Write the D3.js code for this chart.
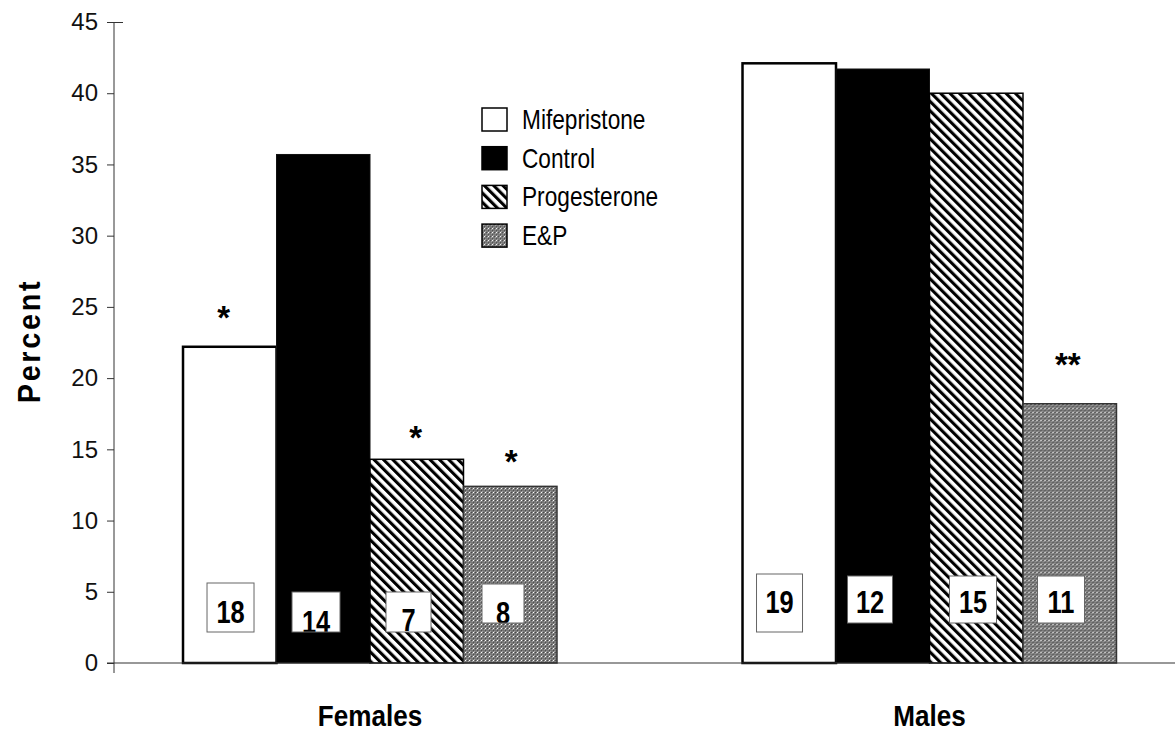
<!DOCTYPE html>
<html>
<head>
<meta charset="utf-8">
<script src="https://cdn.jsdelivr.net/npm/d3@7"></script>
<style>
  body { margin: 0; background: #fff; }
  svg { display: block; }
</style>
</head>
<body>
<svg id="chart" width="1175" height="732"></svg>
<script>
// ---- data ----
const groups = ["Females", "Males"];
const series = ["Mifepristone", "Control", "Progesterone", "E&P"];
const femaleValues = [22.2, 35.7, 14.3, 12.4];
const maleValues = [42.1, 41.7, 40.0, 18.2];
const femaleCounts = ["18", "14", "7", "8"];
const maleCounts = ["19", "12", "15", "11"];
const femaleMarks = ["*", "", "*", "*"];
const maleMarks = ["", "", "", "**"];
const yTicks = [0, 5, 10, 15, 20, 25, 30, 35, 40, 45];

// ---- layout of the count boxes (offset from bar left, top/bottom in px) ----
const femaleBoxes = [
  { dx: 24, w: 47, top: 583, bottom: 632, base: 623 },
  { dx: 15.5, w: 48, top: 592, bottom: 632, base: 633 },
  { dx: 16, w: 45, top: 592, bottom: 632, base: 631 },
  { dx: 18.5, w: 42, top: 584, bottom: 623, base: 624 }
];
const maleBoxes = [
  { dx: 14, w: 46, top: 574, bottom: 632, base: 613 },
  { dx: 11.5, w: 45, top: 576, bottom: 623, base: 613 },
  { dx: 20, w: 47, top: 576, bottom: 623, base: 613 },
  { dx: 14.5, w: 47, top: 576, bottom: 623, base: 613 }
];
// gap between bar top and significance mark centre
const femaleMarkGap = [37, 0, 29, 32];
const maleMarkGap = [0, 0, 0, 47];
const femaleMarkDx = [-6, 0, -1, 1];
const maleMarkDx = [0, 0, 0, -2];

const rows = groups.map((g, gi) => ({
  group: g,
  values: gi === 0 ? femaleValues : maleValues,
  counts: gi === 0 ? femaleCounts : maleCounts,
  marks: gi === 0 ? femaleMarks : maleMarks,
  boxes: gi === 0 ? femaleBoxes : maleBoxes,
  gaps: gi === 0 ? femaleMarkGap : maleMarkGap,
  mdx: gi === 0 ? femaleMarkDx : maleMarkDx
}));

const svg = d3.select("#chart");
const axisX = 114, yTop = 22, yZero = 663;
const FONT = "'Liberation Sans', Arial, sans-serif";

const y = d3.scaleLinear().domain([0, 45]).range([yZero, yTop]);
const x0 = d3.scaleBand().domain(groups)
  .range([90.25, 1209.25]).paddingInner(0.3316).paddingOuter(0.1658);
const x1 = d3.scaleBand().domain(series).range([0, x0.bandwidth()]).padding(0);

// condensed text: place at (x, y) and squeeze horizontally
function narrow(sel, fx, fy, k) {
  sel.attr("x", 0).attr("y", 0)
    .attr("transform", (d, i) => `translate(${fx(d, i)},${fy(d, i)}) scale(${k},1)`);
}

// ---- fill patterns ----
const defs = svg.append("defs");
const stripe = defs.append("pattern").attr("id", "stripes")
  .attr("patternUnits", "userSpaceOnUse").attr("width", 6.6).attr("height", 6.6)
  .attr("patternTransform", "rotate(-45)");
stripe.append("rect").attr("width", 6.6).attr("height", 6.6).attr("fill", "#fff");
stripe.append("rect").attr("width", 3.1).attr("height", 6.6).attr("fill", "#000");

const check = defs.append("pattern").attr("id", "checker")
  .attr("patternUnits", "userSpaceOnUse").attr("width", 4).attr("height", 4);
check.append("rect").attr("width", 4).attr("height", 4).attr("fill", "#7a7a7a");
[[0,0],[2,2]].forEach(([a,b]) => check.append("rect").attr("x", a).attr("y", b)
  .attr("width", 1).attr("height", 1).attr("fill", "#4c4c4c"));
[[1,1],[3,3]].forEach(([a,b]) => check.append("rect").attr("x", a).attr("y", b)
  .attr("width", 1).attr("height", 1).attr("fill", "#a8a8a8"));
check.append("rect").attr("x", 2).attr("y", 0).attr("width", 1).attr("height", 1).attr("fill", "#fff");

const fills = { "Mifepristone": "#fff", "Control": "#000", "Progesterone": "url(#stripes)", "E&P": "url(#checker)" };
const strokes = { "Mifepristone": "#000", "Control": "#111", "Progesterone": "#000", "E&P": "#333" };
const strokeW = { "Mifepristone": 2.5, "Control": 1, "Progesterone": 1.5, "E&P": 1.5 };

// ---- bars ----
const gBars = svg.selectAll("g.grp").data(rows).join("g")
  .attr("class", "grp")
  .attr("transform", d => `translate(${x0(d.group)},0)`);

gBars.selectAll("rect.bar")
  .data(d => series.map((s, i) => ({ s, v: d.values[i] })))
  .join("rect").attr("class", "bar")
  .attr("x", d => x1(d.s))
  .attr("y", d => y(d.v))
  .attr("width", x1.bandwidth())
  .attr("height", d => y(0) - y(d.v))
  .attr("fill", d => fills[d.s])
  .attr("stroke", d => strokes[d.s])
  .attr("stroke-width", d => strokeW[d.s]);

// ---- count boxes ----
const boxData = rows.flatMap((d, gi) => series.map((s, i) => ({
  id: `b${gi}${i}`,
  left: x0(d.group) + x1(s) + d.boxes[i].dx,
  box: d.boxes[i],
  text: d.counts[i]
})));

defs.selectAll("clipPath").data(boxData).join("clipPath")
  .attr("id", d => d.id)
  .append("rect")
  .attr("x", d => d.left).attr("y", d => d.box.top)
  .attr("width", d => d.box.w).attr("height", d => d.box.bottom - d.box.top);

const boxes = svg.append("g").selectAll("g").data(boxData).join("g")
  .attr("clip-path", d => `url(#${d.id})`);
boxes.append("rect")
  .attr("x", d => d.left).attr("y", d => d.box.top)
  .attr("width", d => d.box.w).attr("height", d => d.box.bottom - d.box.top)
  .attr("fill", "#fff");
boxes.append("text")
  .attr("text-anchor", "middle")
  .style("font-family", FONT)
  .style("font-weight", "bold")
  .style("font-size", "31px")
  .attr("fill", "#000")
  .text(d => d.text)
  .call(narrow, d => d.left + d.box.w / 2, d => d.box.base, 0.82);
svg.append("g").selectAll("rect").data(boxData).join("rect")
  .attr("x", d => d.left).attr("y", d => d.box.top)
  .attr("width", d => d.box.w).attr("height", d => d.box.bottom - d.box.top)
  .attr("fill", "none").attr("stroke", "#666").attr("stroke-width", 1);

// ---- significance marks ----
const markData = rows.flatMap(d => series.map((s, i) => ({
  cx: x0(d.group) + x1(s) + x1.bandwidth() / 2 + d.mdx[i],
  cy: y(d.values[i]) - d.gaps[i],
  text: d.marks[i]
}))).filter(d => d.text);

svg.append("g").selectAll("text").data(markData).join("text")
  .attr("x", d => d.cx).attr("y", d => d.cy + 19)
  .attr("text-anchor", "middle")
  .style("font-family", FONT)
  .style("font-weight", "bold")
  .style("font-size", "33px")
  .text(d => d.text);

// ---- axes ----
const yAxis = svg.append("g").attr("transform", `translate(${axisX},0)`)
  .call(d3.axisLeft(y).tickValues(yTicks).tickSize(7).tickPadding(9));
yAxis.select(".domain").remove();
yAxis.selectAll(".tick line").attr("stroke", "#333");
yAxis.selectAll(".tick text")
  .style("font-family", FONT)
  .style("font-size", "24px").attr("fill", "#111");
// top tick runs across the axis
yAxis.selectAll(".tick").filter(d => d === 45).select("line").attr("x2", 9).attr("x1", -7);

svg.append("line").attr("x1", axisX).attr("x2", axisX)
  .attr("y1", yTop).attr("y2", yZero + 10).attr("stroke", "#333").attr("stroke-width", 1);
svg.append("line").attr("x1", axisX - 7).attr("x2", 1175)
  .attr("y1", yZero).attr("y2", yZero).attr("stroke", "#333").attr("stroke-width", 1.2);

// category labels
svg.append("g").selectAll("text").data(groups).join("text")
  .attr("text-anchor", "middle")
  .style("font-family", FONT)
  .style("font-weight", "bold").style("font-size", "29px").attr("fill", "#000")
  .text(d => d)
  .call(narrow, d => x0(d) + x0.bandwidth() / 2, () => 726, 0.9);

// y axis title
svg.append("text")
  .attr("transform", "translate(40,341) rotate(-90) scale(0.9,1)")
  .attr("text-anchor", "middle")
  .style("font-family", FONT)
  .style("font-weight", "bold").style("font-size", "32px")
  .style("letter-spacing", "3px")
  .text("Percent");

// ---- legend ----
const legend = svg.append("g").attr("transform", "translate(482,108)");
const li = legend.selectAll("g").data(series).join("g")
  .attr("transform", (d, i) => `translate(0,${i * 38.7})`);
li.append("rect").attr("width", 25).attr("height", 23)
  .attr("fill", d => fills[d]).attr("stroke", "#000").attr("stroke-width", 1.5);
li.append("text")
  .style("font-family", FONT)
  .style("font-size", "27px").attr("fill", "#000")
  .text(d => d)
  .call(narrow, () => 40, () => 21, 0.84);
</script>
</body>
</html>
